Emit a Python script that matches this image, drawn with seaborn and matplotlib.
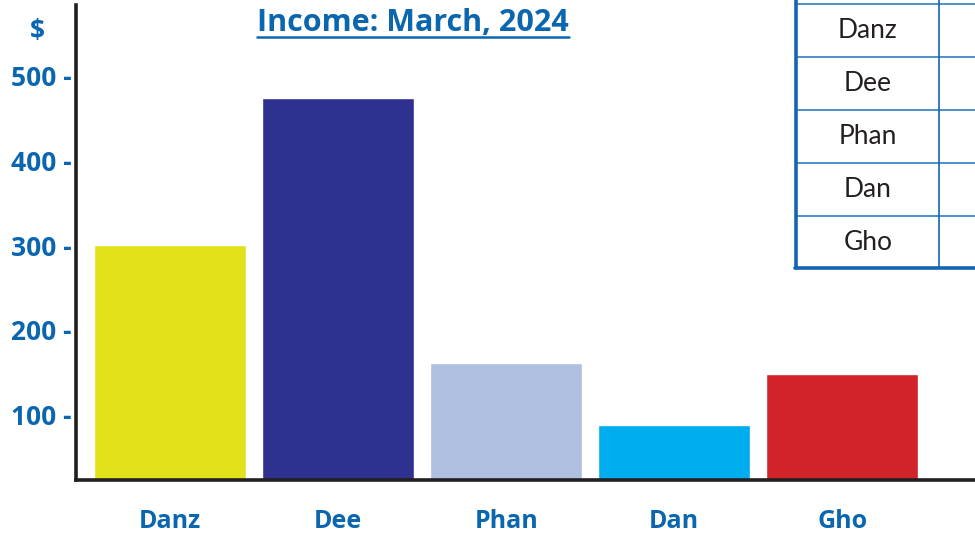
import matplotlib
matplotlib.use("Agg")
import matplotlib.pyplot as plt
import seaborn as sns
import pandas as pd
from matplotlib.lines import Line2D

names = ["Danz", "Dee", "Phan", "Dan", "Gho"]
income = [300, 474, 161, 87, 148]
colors = ["#E2E21A", "#2F3190", "#AFBFE0", "#00AEEF", "#D2232A"]
yticks = [100, 200, 300, 400, 500]
title = "Income: March, 2024"

BLUE = "#0B66B0"
sns.set_theme(style="white")
plt.rcParams['font.family'] = ['Open Sans', 'DejaVu Sans']

W, H = 975, 535
fig = plt.figure(figsize=(W / 100, H / 100), dpi=100)
ax = fig.add_axes([76 / W, (H - 480) / H, 1 - 76 / W, (480 - 5) / H])

df = pd.DataFrame({"name": names, "income": income})
sns.barplot(data=df, x="name", y="income", hue="name", palette=colors,
            width=0.905, saturation=1, legend=False, ax=ax)

ax.set_xlim(-0.56, 4.79)
ax.set_ylim(22, 584)
ax.set_yticks(yticks)
ax.set_yticklabels([f"{v} -" for v in yticks], color=BLUE, fontweight="bold", fontsize=19)
ax.set_xticks(range(len(names)))
ax.set_xticklabels(names, color=BLUE, fontweight="bold", fontsize=18)
ax.tick_params(axis="y", length=0, pad=3)
ax.tick_params(axis="x", length=0, pad=21)
ax.set_xlabel("")
ax.set_ylabel("")
for s in ["top", "right"]:
    ax.spines[s].set_visible(False)
for s in ["left", "bottom"]:
    ax.spines[s].set_color("#231F20")
    ax.spines[s].set_linewidth(2.6)
ax.grid(False)

# overlay axes in pixel coords
ov = fig.add_axes([0, 0, 1, 1], zorder=5)
ov.set_xlim(0, W)
ov.set_ylim(H, 0)
ov.axis("off")
ov.patch.set_alpha(0)

ov.text(37, 31, "\\$", color=BLUE, fontweight="bold", fontsize=19, ha="center", va="center")
t = ov.text(413, 23, title, color=BLUE, fontweight="bold", fontsize=22, ha="center", va="center")

# table
TB = "#1565B0"
row_lines = [4, 57, 110, 163, 216]
for y in row_lines:
    ov.add_line(Line2D([796, W + 5], [y, y], color="#2F7EC4", lw=1.2))
ov.add_line(Line2D([796, 796], [-5, 268], color=TB, lw=2.6))
ov.add_line(Line2D([939, 939], [-5, 268], color=TB, lw=1.2))
ov.add_line(Line2D([794.7, W + 5], [268, 268], color=TB, lw=2.6))
ov.add_patch(plt.Rectangle((797, -5), W - 797 + 5, 273, facecolor="white", edgecolor="none", zorder=0))
row_centers = [30.5, 83.5, 136.5, 189.5, 242.5]
for n, yc in zip(names, row_centers):
    ov.text(868, yc, n, color="#231F20", fontsize=19, ha="center", va="center",
            family=["Lato", "DejaVu Sans"])

fig.canvas.draw()
bb = t.get_window_extent()
ov.add_line(Line2D([bb.x0, bb.x1], [37, 37], color=BLUE, lw=1.8))

fig.savefig("out.png", dpi=100)
